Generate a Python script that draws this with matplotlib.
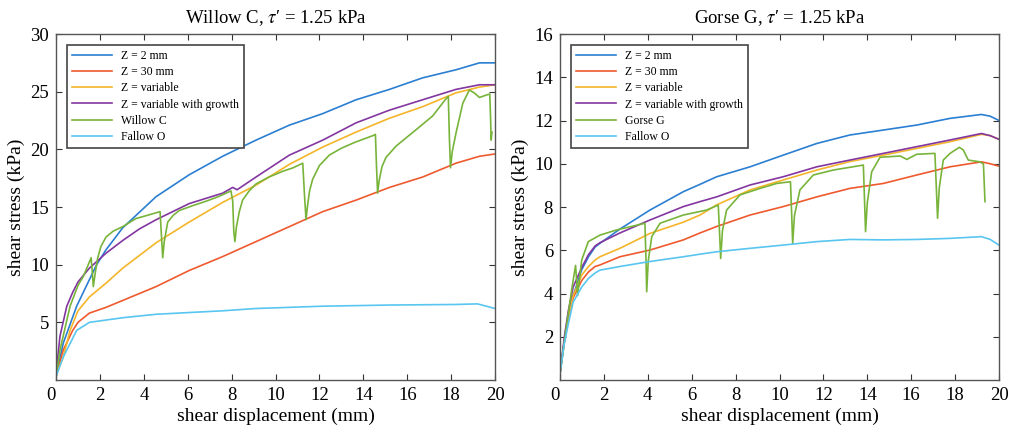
import matplotlib
matplotlib.use('Agg')
import matplotlib.pyplot as plt

plt.rcParams['font.family'] = ['Liberation Serif', 'DejaVu Serif']
plt.rcParams['mathtext.fontset'] = 'stix'

# ---- Willow C panel ----
w_blue_x = [0, 0.33, 0.94, 1.52, 1.85, 2.28, 3.04, 4.56, 6.07, 7.59, 9.11, 10.63, 12.15, 13.67, 15.19, 16.7, 18.22, 19.29, 20]
w_blue_y = [0.3, 3.2, 6.4, 8.7, 10.0, 11.3, 13.2, 15.9, 17.8, 19.4, 20.8, 22.1, 23.1, 24.3, 25.2, 26.2, 26.9, 27.5, 27.5]

w_red_x = [0, 0.33, 0.76, 1.0, 1.52, 2.28, 3.04, 4.56, 6.07, 7.59, 9.11, 10.63, 12.15, 13.67, 15.19, 16.7, 18.22, 19.29, 20]
w_red_y = [0.3, 2.6, 4.3, 5.0, 5.8, 6.3, 6.9, 8.1, 9.5, 10.7, 12.0, 13.3, 14.6, 15.6, 16.7, 17.6, 18.8, 19.4, 19.6]

w_orange_x = [0, 0.33, 0.64, 1.0, 1.52, 2.28, 3.04, 4.56, 6.07, 7.59, 9.11, 10.63, 12.15, 13.67, 15.19, 16.7, 18.22, 19.29, 20]
w_orange_y = [0.4, 2.0, 4.3, 6.0, 7.2, 8.4, 9.7, 11.9, 13.7, 15.4, 16.9, 18.7, 20.2, 21.5, 22.7, 23.7, 24.9, 25.4, 25.6]

w_purple_x = [0, 0.18, 0.49, 0.76, 1.0, 1.52, 2.28, 3.04, 3.8, 4.56, 6.07, 7.59, 8.05, 8.25, 9.11, 10.63, 12.15, 13.67, 15.19, 16.7, 18.22, 19.29, 20]
w_purple_y = [0.5, 3.8, 6.4, 7.6, 8.5, 9.7, 11.0, 12.1, 13.1, 13.9, 15.3, 16.2, 16.7, 16.5, 17.6, 19.5, 20.8, 22.3, 23.4, 24.3, 25.2, 25.6, 25.6]

w_green_x = [0, 0.18, 0.64, 1.0, 1.25, 1.6, 1.65, 1.7, 1.78, 1.9, 2.05, 2.28, 2.6, 3.04, 3.64, 4.2, 4.56, 4.74,
             4.8, 4.86, 4.93, 5.09, 5.35, 5.62, 6.2, 6.83, 7.4, 7.97, 8.05, 8.1, 8.15, 8.22, 8.35, 8.5, 8.8,
             9.11, 9.7, 10.33, 10.8, 11.24, 11.32, 11.39, 11.45, 11.55, 11.69, 12.0, 12.45, 13.0, 13.6, 14.45,
             14.55, 14.6, 14.65, 14.72, 14.85, 15.03, 15.5, 16.4, 17.16, 17.77, 17.87, 17.92, 17.97, 18.05,
             18.22, 18.53, 18.83, 19.05, 19.29, 19.59, 19.76, 19.8, 19.82, 19.86]
w_green_y = [0.3, 2.6, 6.4, 8.2, 9.0, 10.6, 9.4, 8.1, 9.2, 10.6, 11.6, 12.4, 12.9, 13.3, 14.0, 14.3, 14.5, 14.6,
             12.6, 10.6, 12.0, 13.7, 14.3, 14.7, 15.1, 15.5, 15.9, 16.4, 15.5, 12.8, 12.0, 13.3, 14.6, 15.6, 16.4,
             17.0, 17.6, 18.1, 18.4, 18.8, 16.0, 13.9, 15.0, 16.4, 17.4, 18.6, 19.5, 20.1, 20.6, 21.2,
             21.3, 18.5, 16.2, 17.3, 18.5, 19.3, 20.3, 21.7, 22.9, 24.4, 24.6, 21.0, 18.4, 19.8,
             21.4, 24.0, 25.15, 24.9, 24.5, 24.7, 24.8, 22.5, 20.8, 21.5]

w_cyan_x = [0, 0.33, 0.94, 1.52, 3.04, 4.56, 6.07, 7.59, 9.11, 10.63, 12.15, 15.19, 18.22, 19.2, 20]
w_cyan_y = [0.3, 2.0, 4.3, 5.0, 5.4, 5.7, 5.85, 6.0, 6.2, 6.3, 6.4, 6.5, 6.55, 6.6, 6.2]

# ---- Gorse G panel ----
g_x = [0, 0.2, 0.38, 0.6, 0.99, 1.3, 1.6, 1.82, 2.73, 4.1, 5.62, 6.38, 7.14, 8.66, 10.17, 11.7, 13.2, 14.73, 16.25, 17.77, 19.2, 19.6, 20]
g_blue_y = [0.3, 1.8, 2.9, 3.9, 5.1, 5.7, 6.15, 6.32, 6.98, 7.86, 8.71, 9.05, 9.4, 9.86, 10.4, 10.94, 11.33, 11.56, 11.79, 12.1, 12.28, 12.2, 12.0]
g_purple_y = [0.3, 2.0, 3.2, 4.3, 5.2, 5.8, 6.2, 6.35, 6.8, 7.4, 8.02, 8.25, 8.47, 9.02, 9.4, 9.86, 10.17, 10.48, 10.79, 11.1, 11.4, 11.3, 11.13]
g_orange_y = [0.3, 1.8, 2.9, 3.9, 4.85, 5.25, 5.55, 5.7, 6.09, 6.78, 7.3, 7.63, 8.1, 8.79, 9.25, 9.71, 10.1, 10.4, 10.71, 11.02, 11.36, 11.3, 11.13]
g_red_y = [0.3, 1.8, 2.8, 3.8, 4.6, 5.0, 5.25, 5.32, 5.7, 6.01, 6.48, 6.8, 7.1, 7.63, 8.02, 8.47, 8.86, 9.09, 9.48, 9.86, 10.09, 10.0, 9.89]
g_cyan_y = [0.3, 1.7, 2.6, 3.6, 4.3, 4.7, 4.95, 5.08, 5.25, 5.48, 5.7, 5.82, 5.93, 6.09, 6.24, 6.4, 6.5, 6.48, 6.5, 6.55, 6.63, 6.5, 6.24]

g_green_x = [0, 0.23, 0.53, 0.71, 0.76, 0.8, 0.88, 0.99, 1.29, 1.82, 2.58, 3.34, 3.87, 3.92, 3.95, 4.02, 4.18, 4.56,
             5.62, 6.68, 7.21, 7.27, 7.32, 7.4, 7.59, 8.2, 9.11, 9.87, 10.5, 10.55, 10.6, 10.68, 10.93, 11.54,
             12.45, 13.82, 13.87, 13.92, 14.0, 14.2, 14.58, 15.5, 15.8, 16.25, 17.08, 17.14, 17.2, 17.28, 17.46,
             17.77, 18.19, 18.37, 18.6, 19.13, 19.29, 19.33, 19.36]
g_green_y = [0.3, 2.0, 4.16, 5.3, 4.6, 3.9, 4.6, 5.55, 6.4, 6.7, 6.94, 7.12, 7.25, 5.5, 4.08, 5.5, 6.63, 7.25,
             7.63, 7.86, 8.09, 6.8, 5.62, 6.9, 7.86, 8.56, 8.86, 9.09, 9.17, 7.8, 6.32, 7.6, 8.79, 9.48,
             9.71, 9.94, 8.4, 6.86, 8.2, 9.63, 10.3, 10.36, 10.2, 10.44, 10.48, 9.0, 7.48, 8.9, 10.17,
             10.48, 10.76, 10.64, 10.17, 10.09, 9.99, 9.0, 8.25]

labels_common = ['Z = 2 mm', 'Z = 30 mm', 'Z = variable', 'Z = variable with growth']
c_blue, c_red, c_orange, c_purple, c_green, c_cyan = '#2b7fd2', '#ee5a2e', '#f4b52a', '#8336a0', '#78b43a', '#58c6f0'

fig = plt.figure(figsize=(10.13, 4.33), dpi=100)
ax1 = fig.add_axes([0.0553, 0.1224, 0.4334, 0.799])
ax2 = fig.add_axes([0.5528, 0.1224, 0.4334, 0.799])

lw = 1.2
ax1.plot(w_blue_x, w_blue_y, color=c_blue, lw=lw, label=labels_common[0])
ax1.plot(w_red_x, w_red_y, color=c_red, lw=lw, label=labels_common[1])
ax1.plot(w_orange_x, w_orange_y, color=c_orange, lw=lw, label=labels_common[2])
ax1.plot(w_purple_x, w_purple_y, color=c_purple, lw=lw, label=labels_common[3])
ax1.plot(w_green_x, w_green_y, color=c_green, lw=lw, label='Willow C')
ax1.plot(w_cyan_x, w_cyan_y, color=c_cyan, lw=lw, label='Fallow O')

ax2.plot(g_x, g_blue_y, color=c_blue, lw=lw, label=labels_common[0])
ax2.plot(g_x, g_red_y, color=c_red, lw=lw, label=labels_common[1])
ax2.plot(g_x, g_orange_y, color=c_orange, lw=lw, label=labels_common[2])
ax2.plot(g_x, g_purple_y, color=c_purple, lw=lw, label=labels_common[3])
ax2.plot(g_green_x, g_green_y, color=c_green, lw=lw, label='Gorse G')
ax2.plot(g_x, g_cyan_y, color=c_cyan, lw=lw, label='Fallow O')

ax1.set_ylim(0, 30)
ax1.set_yticks([5, 10, 15, 20, 25, 30])
ax2.set_ylim(0, 16)
ax2.set_yticks([2, 4, 6, 8, 10, 12, 14, 16])
ax1.set_title("Willow C, $\\tau$\u2032 = 1.25 kPa", fontsize=13.5, pad=8)
ax2.set_title("Gorse G, $\\tau$\u2032 = 1.25 kPa", fontsize=13.5, pad=8)

for ax in (ax1, ax2):
    ax.set_xlim(0, 20)
    ax.set_xticks(range(0, 21, 2))
    ax.tick_params(direction='in', top=True, right=True, length=4, width=0.8,
                   color='#333333', labelsize=13.5, pad=5)
    for s in ax.spines.values():
        s.set_color('#555555')
        s.set_linewidth(1.0)
    ax.set_xlabel('shear displacement (mm)', fontsize=14, labelpad=3)
    ax.set_ylabel('shear stress (kPa)', fontsize=14, labelpad=4)
    ax.xaxis.get_majorticklabels()[0].set_horizontalalignment('right')
    leg = ax.legend(loc='upper left', bbox_to_anchor=(0.025, 0.968), borderaxespad=0,
                    fontsize=8.5, handlelength=3.4, labelspacing=0.36, fancybox=False,
                    framealpha=1, edgecolor='#444444')
    leg.get_frame().set_linewidth(1.2)

fig.savefig('out.png', dpi=100)
